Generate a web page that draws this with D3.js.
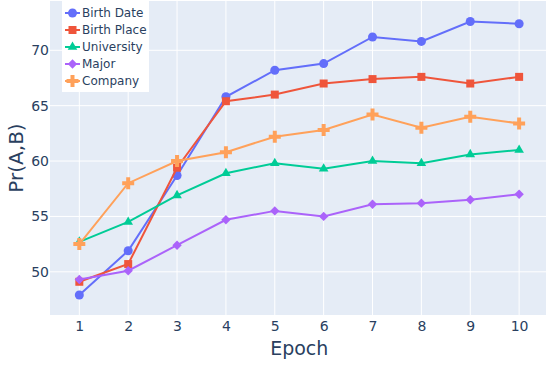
<!DOCTYPE html>
<html><head><meta charset="utf-8">
<script src="https://cdn.jsdelivr.net/npm/d3@7"></script>
<style>body{margin:0;background:#fff;}svg{display:block;font-family:"DejaVu Sans",Verdana,sans-serif;}</style>
</head><body><svg id="c" width="546" height="365"></svg>
<script>
const epochs = [1,2,3,4,5,6,7,8,9,10];
const birthDate  = [47.9, 51.9, 58.7, 65.8, 68.2, 68.8, 71.2, 70.8, 72.6, 72.4];
const birthPlace = [49.1, 50.7, 59.4, 65.4, 66.0, 67.0, 67.4, 67.6, 67.0, 67.6];
const university = [52.7, 54.5, 56.9, 58.9, 59.8, 59.3, 60.0, 59.8, 60.6, 61.0];
const major      = [49.3, 50.1, 52.4, 54.7, 55.5, 55.0, 56.1, 56.2, 56.5, 57.0];
const company    = [52.5, 58.0, 60.0, 60.8, 62.2, 62.8, 64.2, 63.0, 64.0, 63.4];
const yTicks = [50, 55, 60, 65, 70];
const seriesNames = ["Birth Date","Birth Place","University","Major","Company"];
const seriesValues = [birthDate, birthPlace, university, major, company];
const colors = ["#636EFA","#EF553B","#00CC96","#AB63FA","#FFA15A"];
const symbols = [d3.symbolCircle, d3.symbolSquare, d3.symbolTriangle, d3.symbolSquare, d3.symbolCross];
const symRot = [0, 0, 0, 45, 0];
const symSizes = [64, 64, 40, 44, 80];

const svg = d3.select("#c");
const L = 50, R = 546, T = 1, B = 315;
const x = d3.scaleLinear().domain([0.4, 10.55]).range([L, R]);
const y = d3.scaleLinear().domain([46.1, 74.45]).range([B, T]);

svg.append("rect").attr("x", L).attr("y", T).attr("width", R - L).attr("height", B - T).attr("fill", "#E5ECF6");

// grid
svg.append("g").selectAll("line").data(epochs).join("line")
  .attr("x1", d => x(d)).attr("x2", d => x(d)).attr("y1", T).attr("y2", B)
  .attr("stroke", "#fff").attr("stroke-width", 1);
svg.append("g").selectAll("line").data(yTicks).join("line")
  .attr("x1", L).attr("x2", R).attr("y1", d => y(d)).attr("y2", d => y(d))
  .attr("stroke", "#fff").attr("stroke-width", 1);

// axes
const xAxis = svg.append("g").attr("transform", `translate(0,${B})`)
  .call(d3.axisBottom(x).tickValues(epochs).tickSize(0).tickPadding(6).tickFormat(d3.format("d")));
const yAxis = svg.append("g").attr("transform", `translate(${L},0)`)
  .call(d3.axisLeft(y).tickValues(yTicks).tickSize(0).tickPadding(1));
[xAxis, yAxis].forEach(a => {
  a.select(".domain").remove();
  a.selectAll("text").attr("fill", "#2a3f5f").style("font-size", "14px").style("font-family", '"DejaVu Sans",Verdana,sans-serif');
});

svg.append("text").attr("x", x(5.5)).attr("y", 355).attr("text-anchor", "middle")
  .attr("fill", "#2a3f5f").style("font-size", "19px").text("Epoch");
svg.append("text").attr("transform", `translate(23,158) rotate(-90)`).attr("text-anchor", "middle")
  .attr("fill", "#2a3f5f").style("font-size", "20px").text("Pr(A,B)");

// series
const line = d3.line().x((d, i) => x(epochs[i])).y(d => y(d));
seriesValues.forEach((vals, k) => {
  const g = svg.append("g");
  g.append("path").datum(vals).attr("d", line).attr("fill", "none")
    .attr("stroke", colors[k]).attr("stroke-width", 2);
  g.selectAll("path.m").data(vals).join("path").attr("class", "m")
    .attr("transform", (d, i) => `translate(${x(epochs[i])},${y(d)}) rotate(${symRot[k]})`)
    .attr("d", d3.symbol().type(symbols[k]).size(symSizes[k]))
    .attr("fill", colors[k]);
});

// legend
const lg = svg.append("g");
lg.append("rect").attr("x", 62).attr("y", 0).attr("width", 87).attr("height", 92).attr("fill", "#fff");
seriesNames.forEach((n, k) => {
  const yy = 13 + k * 17;
  lg.append("line").attr("x1", 65).attr("x2", 80).attr("y1", yy).attr("y2", yy)
    .attr("stroke", colors[k]).attr("stroke-width", 2);
  lg.append("path").attr("transform", `translate(72.5,${yy}) rotate(${symRot[k]})`)
    .attr("d", d3.symbol().type(symbols[k]).size(symSizes[k])).attr("fill", colors[k]);
  lg.append("text").attr("x", 82).attr("y", yy + 4.3).attr("fill", "#2a3f5f")
    .style("font-size", "12px").text(n);
});
</script></body></html>
